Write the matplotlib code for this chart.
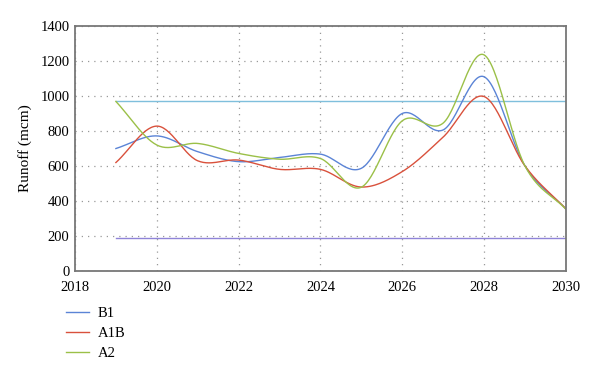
import numpy as np
import matplotlib
matplotlib.use("Agg")
import matplotlib.pyplot as plt
from matplotlib.lines import Line2D

years = [2019, 2020, 2021, 2022, 2023, 2024, 2025, 2026, 2027, 2028, 2029, 2030]
b1 = [700, 772, 682, 625, 649, 668, 587, 900, 806, 1110, 601, 356]
a1b = [620, 828, 630, 634, 581, 581, 480, 568, 765, 997, 601, 356]
a2 = [969, 720, 729, 672, 639, 643, 479, 858, 845, 1235, 601, 354]
ref_upper = 971
ref_lower = 188
labels = ["B1", "A1B", "A2"]
colors = ["#5b84d6", "#d9513c", "#9bc048"]

def smooth(x, y, n=30):
    x = np.asarray(x, float); y = np.asarray(y, float)
    px = np.concatenate([[2*x[0]-x[1]], x, [2*x[-1]-x[-2]]])
    py = np.concatenate([[2*y[0]-y[1]], y, [2*y[-1]-y[-2]]])
    xs, ys = [], []
    t = np.linspace(0, 1, n)
    for i in range(1, len(px)-2):
        for arr, out in ((px, xs), (py, ys)):
            p0, p1, p2, p3 = arr[i-1], arr[i], arr[i+1], arr[i+2]
            out.extend(0.5*((2*p1) + (-p0+p2)*t + (2*p0-5*p1+4*p2-p3)*t**2 + (-p0+3*p1-3*p2+p3)*t**3))
    return np.array(xs), np.array(ys)

plt.rcParams['font.family'] = ['Liberation Serif', 'DejaVu Serif']
fig = plt.figure(figsize=(6, 3.76), dpi=100)
ax = fig.add_axes([0.125, 0.279, 0.818, 0.652])

ax.plot([years[0], years[-1]], [ref_upper, ref_upper], color="#7fbfdc", lw=1.0)
ax.plot([years[0], years[-1]], [ref_lower, ref_lower], color="#8f84d8", lw=1.0)
for vals, c in zip([b1, a1b, a2], colors):
    sx, sy = smooth(years, vals)
    ax.plot(sx, sy, color=c, lw=1.0)

ax.set_xlim(2018, 2030)
ax.set_ylim(0, 1400)
ax.set_xticks(range(2018, 2031, 2))
ax.set_yticks(range(0, 1401, 200))
ax.grid(True, linestyle=(0, (1, 4)), color="#999999", lw=0.9)
for s in ax.spines.values():
    s.set_color("#777777"); s.set_linewidth(1.3)
ax.tick_params(length=0, labelsize=10.5)
ax.tick_params(axis='x', pad=7)
ax.tick_params(axis='y', pad=4)
ax.set_ylabel("Runoff (mcm)", fontsize=11, labelpad=6)

handles = [Line2D([], [], color=c, lw=1.0) for c in colors]
fig.legend(handles, labels, loc="upper left", bbox_to_anchor=(0.102, 0.195), frameon=False,
           fontsize=10.5, handlelength=1.6, labelspacing=0.45, handletextpad=0.6,
           borderaxespad=0, borderpad=0.3)
fig.savefig("out.png", dpi=100)
